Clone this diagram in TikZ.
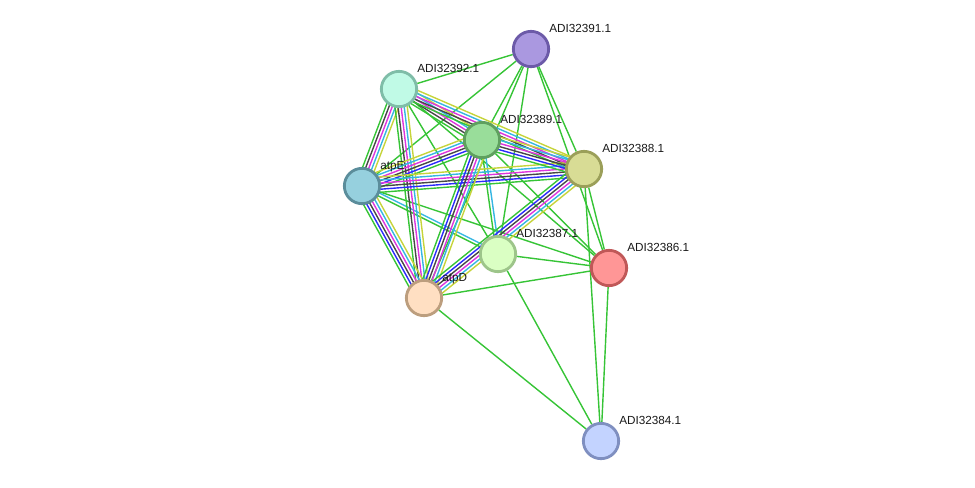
\documentclass[tikz,border=0pt]{standalone}
\usepackage{fontspec}
\setmainfont{Liberation Sans}
\usepackage{xcolor}
\usepackage{tikz}
\usetikzlibrary{calc}
\definecolor{sgreen}{HTML}{36C436}
\definecolor{sblue}{HTML}{2B2BFA}
\definecolor{sblack}{HTML}{474747}
\definecolor{smag}{HTML}{DD35DD}
\definecolor{scyan}{HTML}{35B6E2}
\definecolor{syellow}{HTML}{C6D43A}
% node fill / rim pairs
\definecolor{f91}{HTML}{AA98E0}\definecolor{d91}{HTML}{6C5AA8}
\definecolor{f92}{HTML}{C0FAE6}\definecolor{d92}{HTML}{7FBDA8}
\definecolor{f89}{HTML}{99DD9A}\definecolor{d89}{HTML}{5FA05F}
\definecolor{f88}{HTML}{D8DC95}\definecolor{d88}{HTML}{9B9F59}
\definecolor{fE}{HTML}{96D0DE}\definecolor{dE}{HTML}{5B8D9B}
\definecolor{f87}{HTML}{DAFFC3}\definecolor{d87}{HTML}{9DC58A}
\definecolor{f86}{HTML}{FF9696}\definecolor{d86}{HTML}{C05858}
\definecolor{fD}{HTML}{FFDFC2}\definecolor{dD}{HTML}{BC9E7E}
\definecolor{f84}{HTML}{C3D3FF}\definecolor{d84}{HTML}{7F8FC0}
\tikzset{
  link/.style={line width=1.05pt},
  prot/.style={circle,draw=d#1,fill=f#1,line width=2.1pt,minimum size=26.5pt,inner sep=0pt},
  lbl/.style={anchor=base west,inner sep=0pt,font=\fontsize{8.8}{10}\selectfont,text=black!90}
}
\pgfdeclarelayer{edges}
\pgfsetlayers{edges,main}
% parallel coloured lines between two nodes: from, to, count, colours
\newcommand{\bundle}[4]{%
  \foreach \c [count=\i] in {#4} {
    \pgfmathsetmacro{\off}{(\i-(#3+1)/2)*2.3}
    \draw[link,draw=\c] ($(#1)!\off pt!90:(#2)$) -- ($(#2)!\off pt!-90:(#1)$);
  }}

\begin{document}
\begin{tikzpicture}[x=0.75pt,y=-0.75pt]
  \useasboundingbox (0,0) rectangle (975,487);
  \node[prot=91] (p91) at (531,49) {};
  \node[prot=92] (p92) at (399,89) {};
  \node[prot=89] (p89) at (482,140) {};
  \node[prot=88] (p88) at (584,169) {};
  \node[prot=E] (atpE) at (362,186) {};
  \node[prot=87] (p87) at (498,254) {};
  \node[prot=86] (p86) at (609,268) {};
  \node[prot=D] (atpD) at (424,298) {};
  \node[prot=84] (p84) at (601,441) {};

  \node[lbl] (l91) at ($(p91)+(18,-17)$) {ADI32391.1};
  \node[lbl] (l92) at ($(p92)+(18,-17)$) {ADI32392.1};
  \node[lbl] (l89) at ($(p89)+(18,-17)$) {ADI32389.1};
  \node[lbl] (l88) at ($(p88)+(18,-17)$) {ADI32388.1};
  \node[lbl] (lE) at ($(atpE)+(18,-17)$) {atpE};
  \node[lbl] (l87) at ($(p87)+(18,-17)$) {ADI32387.1};
  \node[lbl] (l86) at ($(p86)+(18,-17)$) {ADI32386.1};
  \node[lbl] (lD) at ($(atpD)+(18,-17)$) {atpD};
  \node[lbl] (l84) at ($(p84)+(18,-17)$) {ADI32384.1};

  \begin{pgfonlayer}{edges}
    \foreach \a/\b in {p91/p92,p91/atpE,p91/p89,p91/atpD,p91/p87,p91/p88,p91/p86,
      p92/p87,p92/p86,p89/p86,atpE/p86,p87/p86,p87/p84,atpD/p86,atpD/p84,
      p88/p86,p88/p84,p86/p84}
      \draw[link,sgreen] (\a) -- (\b);
    \bundle{atpE}{p87}{2}{sgreen,scyan}
    \bundle{p89}{p87}{2}{sgreen,scyan}
    \foreach \a/\b in {p92/p89,p92/p88,p92/atpE,p92/atpD}
      {\bundle{\a}{\b}{5}{sgreen,sblack,smag,scyan,syellow}}
    \foreach \a/\b in {atpE/p89,atpE/p88,atpE/atpD,p89/p88,p89/atpD,p88/atpD}
      {\bundle{\a}{\b}{6}{sgreen,sblue,sblack,smag,scyan,syellow}}
  \end{pgfonlayer}
\end{tikzpicture}
\end{document}
